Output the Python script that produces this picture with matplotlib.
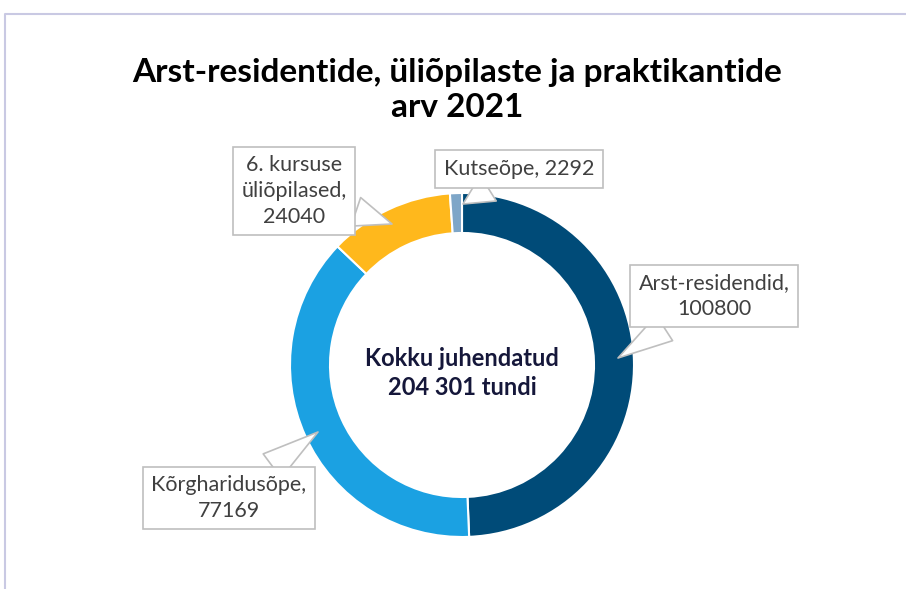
import matplotlib.pyplot as plt

# data
labels = ["Arst-residendid", "Kõrgharidusõpe", "6. kursuse\nüliõpilased", "Kutseõpe"]
values = [100800, 77169, 24040, 2292]
colors = ["#004B78", "#1BA1E2", "#FFB81C", "#7EA6C8"]
title = "Arst-residentide, üliõpilaste ja praktikantide\narv 2021"
center_text = "Kokku juhendatud\n204 301 tundi"

# label box centres and pointer tips (pixels, from top-left)
label_pos = [(714, 296), (229, 498), (294, 191), (519, 169)]
tip_pos = [(618, 358), (318, 432), (392, 224), (463, 204)]

W, H = 906, 589
plt.rcParams['font.family'] = ['Lato', 'DejaVu Sans']

fig = plt.figure(figsize=(W / 100, H / 100), dpi=100)
ax = fig.add_axes([0, 0, 1, 1])
ax.set_xlim(0, W)
ax.set_ylim(0, H)
ax.axis('off')

# frame
ax.plot([5, 5, W], [0, H - 14, H - 14], color="#C9C9E3", lw=1.5)

cx, cy, R = 462, H - 365, 172
ax.pie(values, colors=colors, startangle=90, counterclock=False,
       center=(cx, cy), radius=R,
       wedgeprops=dict(width=40, edgecolor="white", linewidth=1.5))
ax.set_xlim(0, W)
ax.set_ylim(0, H)
ax.set_aspect('equal')

ax.text(W / 2 + 4, H - 90, title, ha="center", va="center", fontsize=24,
        fontweight="bold", color="black", linespacing=1.28)
ax.text(cx, cy - 8, center_text, ha="center", va="center", fontsize=17,
        fontweight="bold", color="#15173A", linespacing=1.35)

for lab, v, (lx, ly), (tx, ty) in zip(labels, values, label_pos, tip_pos):
    txt = f"{lab}, {v}" if "\n" not in lab and v < 10000 else f"{lab},\n{v}"
    ax.annotate(txt, xy=(tx, H - ty), xytext=(lx, H - ly),
                ha="center", va="center", fontsize=15.5, color="#404040",
                linespacing=1.35,
                bbox=dict(boxstyle="square,pad=0.4", fc="white", ec="#BFBFBF", lw=1.2),
                arrowprops=dict(arrowstyle="wedge,tail_width=1.4", fc="white",
                                ec="#BFBFBF", lw=1.2, shrinkA=0, shrinkB=0))

fig.savefig("out.png", dpi=100)
